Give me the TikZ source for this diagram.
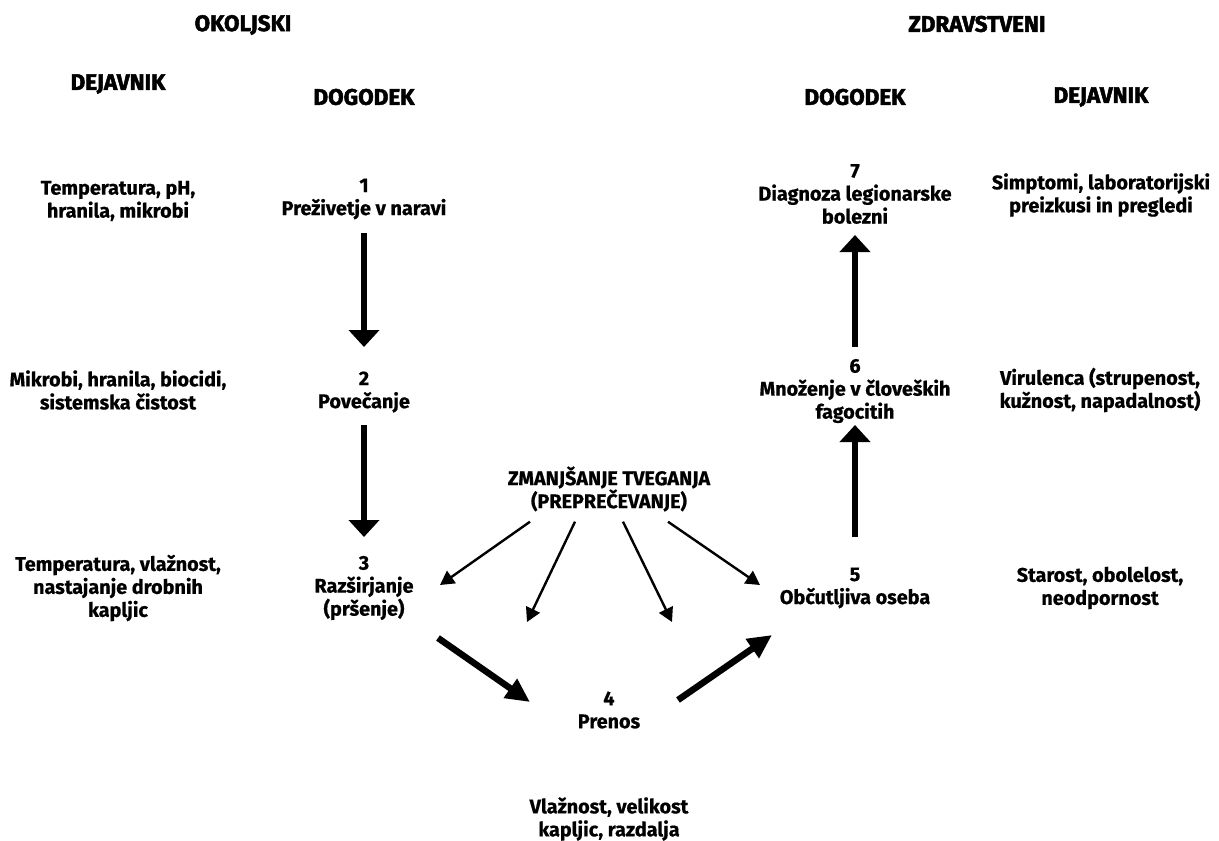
\documentclass[tikz,border=0pt]{standalone}
\usepackage{fontspec}
\setmainfont{Fira Sans}[BoldFeatures={FakeBold=0.7}]
\newfontfamily\headfont{Fira Sans Bold}[FakeBold=2.2]
\usepackage{tikz}
\usetikzlibrary{positioning}
\usetikzlibrary{arrows.meta}

\tikzset{
  txt/.style={align=center,inner sep=0pt,font=\bfseries\fontsize{19.8}{23}\selectfont},
  headtxt/.style={txt,font=\headfont\fontsize{22.5}{25}\selectfont},
  steparrow/.style={line width=6pt,-{Triangle[width=30pt,length=17pt]}},
  flowarrow/.style={line width=6.5pt,-{Triangle[width=22pt,length=24pt]}},
  riskarrow/.style={line width=2.4pt,-{Triangle[width=15pt,length=14pt]}}
}

\begin{document}
\begin{tikzpicture}[x=1pt,y=-1pt]
        \useasboundingbox (0,0) rectangle (1219,841);

        % Headings
        \node[headtxt] (okolj) at (243,25) {OKOLJSKI};
        \node[headtxt] (zdrav) at (977,24) {ZDRAVSTVENI};
        \node[headtxt] (dejL) at (118,84) {DEJAVNIK};
        \node[headtxt] (dogL) at (364,97) {DOGODEK};
        \node[headtxt] (dogR) at (855,97) {DOGODEK};
        \node[headtxt] (dejR) at (1101,97) {DEJAVNIK};

        % Left side (environment)
        \node[txt] (f1) at (118,201) {Temperatura, pH,\\hranila, mikrobi};
        \node[txt] (e1) at (364,199) {1\\Preživetje v naravi};
        \node[txt] (f2) at (118,390) {Mikrobi, hranila, biocidi,\\sistemska čistost};
        \node[txt] (e2) at (364,392) {2\\Povečanje};
        \node[txt] (f3) at (118,588) {Temperatura, vlažnost,\\nastajanje drobnih\\kapljic};
        \node[txt] (e3) at (364,588) {3\\Razširjanje\\(pršenje)};

        % Middle (transmission)
        \node[txt] (zman) at (609,489) {ZMANJŠANJE TVEGANJA\\(PREPREČEVANJE)};
        \node[txt] (e4) at (609,710) {4\\Prenos};
        \node[txt] (f4) at (609,819) {Vlažnost, velikost\\kapljic, razdalja};

        % Right side (health)
        \node[txt] (e5) at (855,588) {5\\Občutljiva oseba};
        \node[txt] (f5) at (1100,588) {Starost, obolelost,\\neodpornost};
        \node[txt] (e6) at (855,391) {6\\Množenje v človeških\\fagocitih};
        \node[txt] (f6) at (1100,390) {Virulenca (strupenost,\\kužnost, napadalnost)};
        \node[txt] (e7) at (855,194) {7\\Diagnoza legionarske\\bolezni};
        \node[txt] (f7) at (1101,195) {Simptomi, laboratorijski\\preizkusi in pregledi};

        % Vertical steps
        \draw[steparrow,shorten <=34pt,shorten >=45pt] (e1.center) -- (e2.center);
        \draw[steparrow,shorten <=33pt,shorten >=51pt] (e2.center) -- (e3.center);
        \draw[steparrow,shorten <=51pt,shorten >=34pt] (e5.center) -- (e6.center);
        \draw[steparrow,shorten <=44pt,shorten >=41pt] (e6.center) -- (e7.center);

        % Spread and transmission
        \coordinate (s3) at (438,638);
        \coordinate (t4) at (530,702);
        \coordinate (s4) at (678,700);
        \coordinate (t5) at (772,635);
        \draw[flowarrow] (s3) -- (t4);
        \draw[flowarrow] (s4) -- (t5);

        % Risk reduction
        \coordinate (r1) at (440,585);
        \coordinate (r2) at (527,622);
        \coordinate (r3) at (672,622);
        \coordinate (r4) at (760,585);
        \draw[riskarrow] ([xshift=-79pt,yshift=-10pt]zman.south) -- (r1);
        \draw[riskarrow] ([xshift=-34pt,yshift=-10pt]zman.south) -- (r2);
        \draw[riskarrow] ([xshift=14pt,yshift=-10pt]zman.south) -- (r3);
        \draw[riskarrow] ([xshift=59pt,yshift=-10pt]zman.south) -- (r4);
\end{tikzpicture}
\end{document}
